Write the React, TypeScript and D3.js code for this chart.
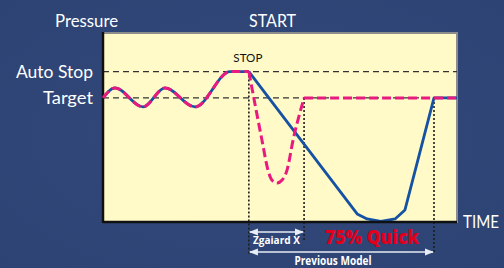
import React, { useEffect, useRef } from 'react';
import * as d3 from 'd3';

// pressure levels (percent of full scale)
const levelNames = ['Auto Stop', 'Target'];
const levelValues = [80, 66];

// shared oscillation before the stop (time %, pressure %)
const waveTime = [0, 3.4, 11.3, 17.5, 26.0, 35.9, 41.2];
const wavePressure = [66, 71.3, 61.2, 71.3, 61.2, 80, 80];

// previous model: slow drop and recovery
const prevTime = [41.2, 71.8, 74.6, 78.5, 82.5, 85.3, 93.5, 100];
const prevPressure = [80, 4.3, 1.6, 0.3, 1.6, 6.4, 66, 66];

// Zgaiard X: quick dip and recovery
const quickTime = [41.2, 44.9, 46.6, 47.7, 49.2, 50.6, 52.0, 53.7, 56.8];
const quickPressure = [80, 43.6, 27.7, 22.3, 20.7, 22.3, 27.7, 43.6, 66];
const quickFlatTime = [56.8, 100];
const quickFlatPressure = [66, 66];

// stop / recovery markers
const markerNames = ['STOP', 'Zgaiard X', 'Previous Model'];
const markerTimes = [41.2, 56.8, 93.5];

const W = 504;
const H = 268;

export default function App() {
  const svgRef = useRef<SVGSVGElement>(null);

  useEffect(() => {
    if (!svgRef.current) return;
    const svg = d3.select(svgRef.current);
    svg.selectAll('*').remove();

    const plot = { left: 103, top: 33, right: 457, bottom: 222 };
    const x = d3.scaleLinear().domain([0, 100]).range([plot.left, plot.right]);
    const y = d3.scaleLinear().domain([0, 100]).range([plot.bottom, plot.top + 1]);

    const defs = svg.append('defs');
    const grad = defs.append('radialGradient').attr('id', 'bg').attr('cx', '50%').attr('cy', '50%').attr('r', '70%');
    grad.append('stop').attr('offset', '0%').attr('stop-color', '#33497b');
    grad.append('stop').attr('offset', '100%').attr('stop-color', '#2c4374');
    ['start', 'end'].forEach(k => {
      defs.append('marker')
        .attr('id', 'arr-' + k)
        .attr('viewBox', '0 0 10 10')
        .attr('refX', k === 'end' ? 9 : 1)
        .attr('refY', 5)
        .attr('markerWidth', 6)
        .attr('markerHeight', 6)
        .attr('orient', 'auto')
        .append('path')
        .attr('d', k === 'end' ? 'M0,1 L10,5 L0,9 Z' : 'M10,1 L0,5 L10,9 Z')
        .attr('fill', '#e9edf5');
    });

    svg.append('rect').attr('width', W).attr('height', H).attr('fill', 'url(#bg)');

    // plot area
    svg.append('rect')
      .attr('x', plot.left).attr('y', plot.top)
      .attr('width', plot.right - plot.left).attr('height', plot.bottom - plot.top)
      .attr('fill', '#fffac7')
      .attr('stroke', '#8c8c8c')
      .attr('stroke-width', 2);

    // reference level lines
    levelValues.forEach(v => {
      svg.append('line')
        .attr('x1', plot.left).attr('x2', plot.right)
        .attr('y1', y(v)).attr('y2', y(v))
        .attr('stroke', '#333')
        .attr('stroke-width', 1.4)
        .attr('stroke-dasharray', '6,4');
    });

    // vertical dotted markers
    const markerTop = [levelValues[0], levelValues[1], levelValues[1]];
    const markerBottom = [255, 240, 253];
    markerTimes.forEach((t, i) => {
      svg.append('line')
        .attr('x1', x(t)).attr('x2', x(t))
        .attr('y1', y(markerTop[i])).attr('y2', markerBottom[i])
        .attr('stroke', '#1e1e1e')
        .attr('stroke-width', 1.6)
        .attr('stroke-dasharray', '2,2');
    });

    const mk = (ts: number[], ps: number[], curve: d3.CurveFactory) =>
      d3.line<number>()
        .x(i => x(ts[i]))
        .y(i => y(ps[i]))
        .curve(curve)(d3.range(ts.length));

    const blue = '#1552a3';
    const pink = '#e8197f';

    // previous model (solid blue)
    [
      mk(waveTime, wavePressure, d3.curveMonotoneX),
      mk(prevTime, prevPressure, d3.curveLinear),
    ].forEach(d => {
      svg.append('path').attr('d', d!).attr('fill', 'none')
        .attr('stroke', blue).attr('stroke-width', 2.8).attr('stroke-linejoin', 'round');
    });

    // axes
    svg.append('line')
      .attr('x1', plot.left).attr('x2', plot.left)
      .attr('y1', plot.top - 1).attr('y2', plot.bottom + 1)
      .attr('stroke', '#111').attr('stroke-width', 2.5);
    svg.append('line')
      .attr('x1', plot.left).attr('x2', plot.right)
      .attr('y1', plot.bottom).attr('y2', plot.bottom)
      .attr('stroke', '#111').attr('stroke-width', 2.5);

    // Zgaiard X (dashed pink)
    [
      mk(waveTime, wavePressure, d3.curveMonotoneX),
      mk(quickTime, quickPressure, d3.curveMonotoneX),
      mk(quickFlatTime, quickFlatPressure, d3.curveLinear),
    ].forEach(d => {
      svg.append('path').attr('d', d!).attr('fill', 'none')
        .attr('stroke', pink).attr('stroke-width', 3)
        .attr('stroke-dasharray', '9,4');
    });

    // arrows
    const arrowY = [232, 252];
    [markerTimes[1], markerTimes[2]].forEach((t, i) => {
      svg.append('line')
        .attr('x1', x(markerTimes[0]) + 1).attr('x2', x(t) - 1)
        .attr('y1', arrowY[i]).attr('y2', arrowY[i])
        .attr('stroke', '#e9edf5').attr('stroke-width', 1.5)
        .attr('marker-start', 'url(#arr-start)')
        .attr('marker-end', 'url(#arr-end)');
    });

    const font = 'Lato, "Open Sans", sans-serif';
    const txt = (s: string, tx: number, ty: number, size: number, opts: { fill?: string; weight?: string; anchor?: string; len?: number; family?: string } = {}) => {
      const t = svg.append('text')
        .attr('x', tx).attr('y', ty)
        .attr('font-family', opts.family || font)
        .attr('font-size', size)
        .attr('font-weight', opts.weight || 'normal')
        .attr('fill', opts.fill || '#fff')
        .attr('text-anchor', opts.anchor || 'start')
        .text(s);
      if (opts.len) t.attr('textLength', opts.len).attr('lengthAdjust', 'spacingAndGlyphs');
      return t;
    };

    txt('Pressure', 55, 27, 17, { len: 63 });
    txt('START', 249, 27, 17, { len: 47 });
    txt('TIME', 463, 228, 17, { len: 36 });
    levelNames.forEach((n, i) => {
      txt(n, 93, y(levelValues[i]) + 6, 17, { anchor: 'end', len: i === 0 ? 77 : 50 });
    });
    txt(markerNames[0], x(markerTimes[0]) - 1, 62, 11.5, { fill: '#111', anchor: 'middle', len: 29 });
    txt(markerNames[1], (x(markerTimes[0]) + x(markerTimes[1])) / 2, 244, 11, { weight: 'bold', anchor: 'middle', len: 47, family: '"Open Sans", sans-serif' });
    txt(markerNames[2], 333, 265, 12, { weight: 'bold', anchor: 'middle', len: 77, family: '"Open Sans", sans-serif' });
    txt('75% Quick', 372, 244, 19, { fill: '#e1001c', weight: '800', anchor: 'middle', len: 94, family: '"Open Sans", sans-serif' });
  }, []);

  return (
    <svg ref={svgRef} width={W} height={H} style={{ position: 'absolute', left: 0, top: 0 }} />
  );
}
